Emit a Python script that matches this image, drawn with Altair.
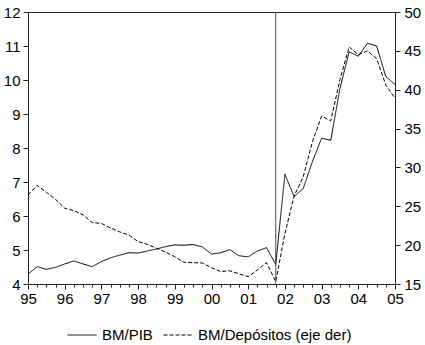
import altair as alt
import pandas as pd

# Quarterly time index 1995Q1 .. 2005Q1
years = list(range(1995, 2006))
quarters = [y + q / 4 for y in years for q in range(4)][:41]

bm_pib = [4.29, 4.51, 4.43, 4.49,
          4.59, 4.68, 4.59, 4.51,
          4.66, 4.77, 4.85, 4.92,
          4.91, 4.97, 5.03, 5.10,
          5.15, 5.14, 5.16, 5.09,
          4.88, 4.92, 5.01, 4.83,
          4.80, 4.97, 5.07, 4.57,
          7.23, 6.57, 6.81, 7.60,
          8.29, 8.23, 9.75, 10.83,
          10.70, 11.08, 11.00, 10.10,
          9.87]

bm_dep = [26.45, 27.70, 26.80, 25.90,
          24.75, 24.45, 23.90, 22.90,
          22.80, 22.20, 21.70, 21.30,
          20.45, 20.10, 19.60, 19.10,
          18.50, 17.80, 17.75, 17.70,
          17.10, 16.60, 16.70, 16.30,
          15.95, 16.80, 17.75, 15.30,
          21.50, 26.30, 28.80, 33.30,
          36.60, 36.00, 41.30, 45.50,
          44.50, 45.00, 44.00, 40.60,
          38.90]

series_names = ["BM/PIB", "BM/Depósitos (eje der)"]
left_ticks = [4, 5, 6, 7, 8, 9, 10, 11, 12]
right_ticks = [15, 20, 25, 30, 35, 40, 45, 50]
break_point = [2001.75]

df = pd.DataFrame({
    "t": quarters * 2,
    "valor": bm_pib + bm_dep,
    "serie": [series_names[0]] * len(bm_pib) + [series_names[1]] * len(bm_dep),
})

FONT = "Liberation Sans"

x_enc = alt.X(
    "t:Q",
    scale=alt.Scale(domain=[1995, 2005], nice=False, zero=False),
    axis=alt.Axis(
        title=None,
        values=quarters,
        tickSize={"condition": {"test": "datum.value % 1 === 0", "value": 5}, "value": 3},
        labelExpr="datum.value % 1 === 0 ? slice(toString(datum.value), 2) : ''",
        labelOverlap=False,
        labelFlush=False,
        labelPadding=2,
    ),
)

dash_enc = alt.StrokeDash(
    "serie:N",
    title=None,
    scale=alt.Scale(domain=series_names, range=[[1, 0], [4, 2]]),
    legend=alt.Legend(
        orient="none",
        legendX=39,
        legendY=308,
        direction="horizontal",
        symbolType="stroke",
        symbolSize=841,
        symbolStrokeWidth=1,
        symbolStrokeColor="black",
        labelFont=FONT,
        labelFontSize=15,
        labelColor="black",
        labelLimit=400,
        labelOffset=5,
        columnPadding=8,
    ),
)

left = alt.Chart(df).transform_filter(
    alt.datum.serie == series_names[0]
).mark_line(color="black", strokeWidth=1).encode(
    x=x_enc,
    y=alt.Y("valor:Q",
            scale=alt.Scale(domain=[4, 12], nice=False, zero=False),
            axis=alt.Axis(title=None, orient="left", values=left_ticks,
                          tickSize=5, labelPadding=3)),
    strokeDash=dash_enc,
)

right = alt.Chart(df).transform_filter(
    alt.datum.serie == series_names[1]
).mark_line(color="black", strokeWidth=1).encode(
    x=x_enc,
    y=alt.Y("valor:Q",
            scale=alt.Scale(domain=[15, 50], nice=False, zero=False),
            axis=alt.Axis(title=None, orient="right", values=right_ticks,
                          tickSize=5, labelPadding=4)),
    strokeDash=dash_enc,
)

vline = alt.Chart(pd.DataFrame({"t": break_point})).mark_rule(
    color="#505050", strokeWidth=1
).encode(x=x_enc)

chart = alt.layer(left, right, vline).resolve_scale(
    y="independent"
).properties(
    width=367,
    height=272,
    autosize=alt.AutoSizeParams(type="none"),
    padding={"left": 28, "top": 12, "right": 30, "bottom": 61},
    background="white",
).configure_view(
    stroke="#222222", strokeWidth=1
).configure_axis(
    grid=False,
    domainColor="#222222",
    tickColor="#222222",
    labelFont=FONT,
    labelFontSize=15,
    labelColor="black",
).configure_axisX(
    labelOverlap=False,
)

chart.save("out.html", embed_options={"renderer": "svg", "actions": False})
